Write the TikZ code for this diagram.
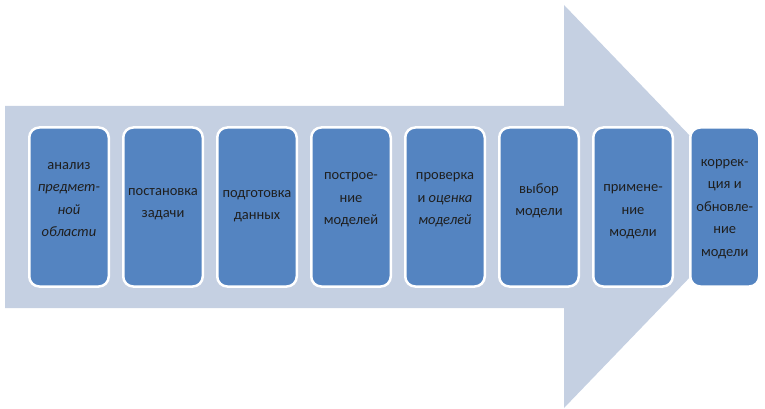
\documentclass[tikz,border=0pt]{standalone}
\usepackage{fontspec}
\setmainfont{Carlito}
\usetikzlibrary{positioning}
\definecolor{arrowfill}{RGB}{197,208,226}
\definecolor{boxblue}{RGB}{84,132,193}

\begin{document}
\begin{tikzpicture}[x=1pt,y=-1pt,node distance=14.5pt,
  stage/.style={draw=white,line width=2.5pt,fill=boxblue,rounded corners=10pt,
    minimum width=79.5pt,minimum height=159pt,inner sep=0pt,outer sep=0pt},
  stagetext/.style={align=center,inner sep=0pt,text=black!88,
    font=\fontsize{14.5}{22.5}\selectfont}]
  \useasboundingbox (0,0) rectangle (765,409);
  % big arrow behind the stages
  \fill[arrowfill] (5,106) -- (564,106) -- (564,5) -- (758,206.5)
    -- (564,408) -- (564,308) -- (5,308) -- cycle;

  % stages
  \node[stage] (b1) at (69,207) {};
  \node[stage] (b2) [right=of b1] {};
  \node[stage] (b3) [right=of b2] {};
  \node[stage] (b4) [right=of b3] {};
  \node[stage] (b5) [right=of b4] {};
  \node[stage] (b6) [right=of b5] {};
  \node[stage] (b7) [right=of b6] {};
  \node[stage,minimum width=69pt] (b8) [right=17.5pt of b7] {};

  % texts
  \node[stagetext] (t1) at ([yshift=7.5pt]b1.center) {анализ\\\textit{предмет-}\\\textit{ной}\\\textit{области}};
  \node[stagetext] (t2) at ([yshift=3pt]b2.center) {постановка\\задачи};
  \node[stagetext] (t3) at ([yshift=1pt]b3.center) {подготовка\\данных};
  \node[stagetext] (t4) at ([yshift=7pt]b4.center) {построе-\\ние\\моделей};
  \node[stagetext] (t5) at ([yshift=7pt]b5.center) {проверка\\и \textit{оценка}\\\textit{моделей}};
  \node[stagetext] (t6) at ([yshift=6pt]b6.center) {выбор\\модели};
  \node[stagetext] (t7) at ([yshift=-5pt]b7.center) {примене-\\ние\\модели};
  \node[stagetext] (t8) at ([yshift=-2pt]b8.center) {коррек-\\ция и\\обновле-\\ние\\модели};
\end{tikzpicture}
\end{document}
